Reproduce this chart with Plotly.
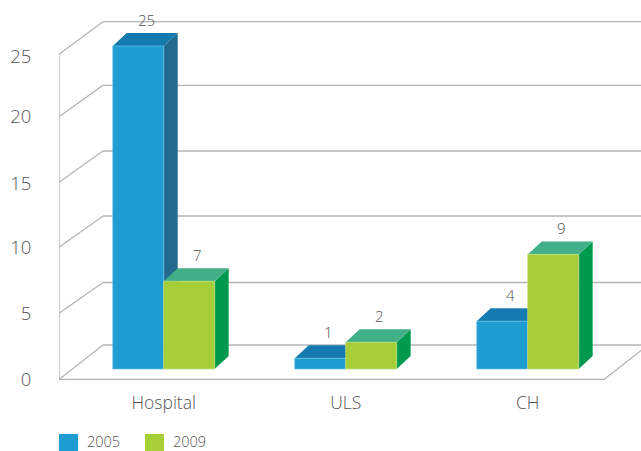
import plotly.graph_objects as go

categories = ["Hospital", "ULS", "CH"]
series_names = ["2005", "2009"]
heights_2005 = [25, 0.83, 3.7]
heights_2009 = [6.79, 2.07, 8.87]
labels_2005 = ["25", "1", "4"]
labels_2009 = ["7", "2", "9"]
y_ticks = [0, 5, 10, 15, 20, 25]

FRONT = ["#1f9dd2", "#a6ce39"]
TOP = ["#147ab0", "#41b087"]
SIDE = ["#236a8f", "#009a4e"]
EDGE = ["#6cc0e3", "#c4e07e"]
GRID = "#b4b4b4"
TEXT = "#545454"
FONT = "Open Sans"
WEIGHT = 300

W, H = 641, 451
ML, MB = 59, 71
PX_X = 182.0      # pixels per category
PX_Y = 12.92      # pixels per unit
BASE_ROW = 369
X0 = -(163.7 - ML) / PX_X
X1 = (W - 163.7) / PX_X
Y_TOP = BASE_ROW / PX_Y
Y_BOT = -(H - MB - BASE_ROW) / PX_Y

BAR_W = 0.28
DEPTH_X, DEPTH_Y = 14 / PX_X, 13 / PX_Y
WALL_X = 44 / PX_X
FLOOR_END = (604 - 163.7) / PX_X

# Rows (pixels) of the drawn 3D frame, one per tick
wall_front_rows = [379.5, 313.3, 247.3, 182.3, 116.7, 54.3]
wall_back_rows = [345, 282.5, 216, 151, 85.3, 21.7]
tick_label_rows = [380, 314, 248, 184, 117, 57]


def level(row):
    return (BASE_ROW - row) / PX_Y


def poly(pts, color):
    path = "M" + "L".join(f"{x},{y}" for x, y in pts) + "Z"
    return dict(type="path", path=path, xref="x", yref="y", layer="below",
                fillcolor=color, line=dict(width=0))


def line(x0, y0, x1, y1):
    return dict(type="line", xref="x", yref="y", layer="below", x0=x0, y0=y0, x1=x1, y1=y1,
                line=dict(color=GRID, width=1.3))


shapes = []
shapes.append(line(X0, level(wall_front_rows[0]), X0, level(wall_front_rows[-1])))
for fr, br in zip(wall_front_rows, wall_back_rows):
    shapes.append(line(X0, level(fr), X0 + WALL_X, level(br)))
    shapes.append(line(X0 + WALL_X, level(br), X1 + 0.05, level(br)))
shapes.append(line(X0, level(wall_front_rows[0]), FLOOR_END, level(wall_front_rows[0])))
shapes.append(line(FLOOR_END, level(wall_front_rows[0]), FLOOR_END + WALL_X, level(wall_back_rows[0])))

fig = go.Figure()
annotations = []
all_heights = [heights_2005, heights_2009]
all_labels = [labels_2005, labels_2009]
for s, (name, hs, ls) in enumerate(zip(series_names, all_heights, all_labels)):
    offset = -BAR_W + s * BAR_W
    for i, h in enumerate(hs):
        xl = i + offset
        xr = xl + BAR_W
        shapes.append(poly([(xr, 0), (xr + DEPTH_X, DEPTH_Y), (xr + DEPTH_X, h + DEPTH_Y), (xr, h)], SIDE[s]))
        shapes.append(poly([(xl, h), (xl + DEPTH_X, h + DEPTH_Y), (xr + DEPTH_X, h + DEPTH_Y), (xr, h)], TOP[s]))
        annotations.append(dict(x=(xl + xr) / 2 + 8 / PX_X, y=h + DEPTH_Y, text=ls[i], xref="x", yref="y",
                                showarrow=False, yanchor="bottom", xanchor="center", yshift=1,
                                font=dict(family=FONT, size=15, color=TEXT, weight=WEIGHT)))
    fig.add_trace(go.Bar(x=list(range(len(categories))), y=hs, name=name, width=BAR_W, offset=offset,
                         marker=dict(color=FRONT[s], line=dict(color=EDGE[s], width=0.7)),
                         showlegend=False))

px = W - ML
py = H - MB
for s, name in enumerate(series_names):
    sx = [59, 145][s]
    shapes.append(dict(type="rect", xref="paper", yref="paper",
                       x0=(sx - ML) / px, x1=(sx + 19 - ML) / px,
                       y0=(py - 434) / py, y1=(py - 452) / py,
                       fillcolor=FRONT[s], line=dict(width=0)))
    annotations.append(dict(xref="paper", yref="paper", x=(sx + 26 - ML) / px, y=(py - 441.5) / py,
                            text=name, showarrow=False, xanchor="left", yanchor="middle",
                            font=dict(family=FONT, size=14.5, color=TEXT, weight=WEIGHT)))

fig.update_layout(
    width=W, height=H, autosize=False, barmode="overlay", showlegend=False,
    margin=dict(l=ML, r=0, t=0, b=MB, pad=0),
    paper_bgcolor="white", plot_bgcolor="white",
    shapes=shapes, annotations=annotations,
    font=dict(family=FONT, color=TEXT),
    xaxis=dict(range=[X0, X1], tickvals=list(range(len(categories))), ticktext=categories,
               showgrid=False, zeroline=False, showline=False, ticks="outside", ticklen=7,
               tickcolor="rgba(0,0,0,0)", tickfont=dict(family=FONT, size=17.5, color=TEXT, weight=WEIGHT)),
    yaxis=dict(range=[Y_BOT, Y_TOP], tickvals=[level(r) for r in tick_label_rows],
               ticktext=[str(v) for v in y_ticks], showgrid=False, zeroline=False, showline=False,
               ticks="outside", ticklen=23, tickcolor="rgba(0,0,0,0)",
               tickfont=dict(family=FONT, size=18.5, color=TEXT, weight=WEIGHT)),
)
fig.write_html("out.html", config=dict(displayModeBar=False), post_script="document.body.style.margin='0';")
